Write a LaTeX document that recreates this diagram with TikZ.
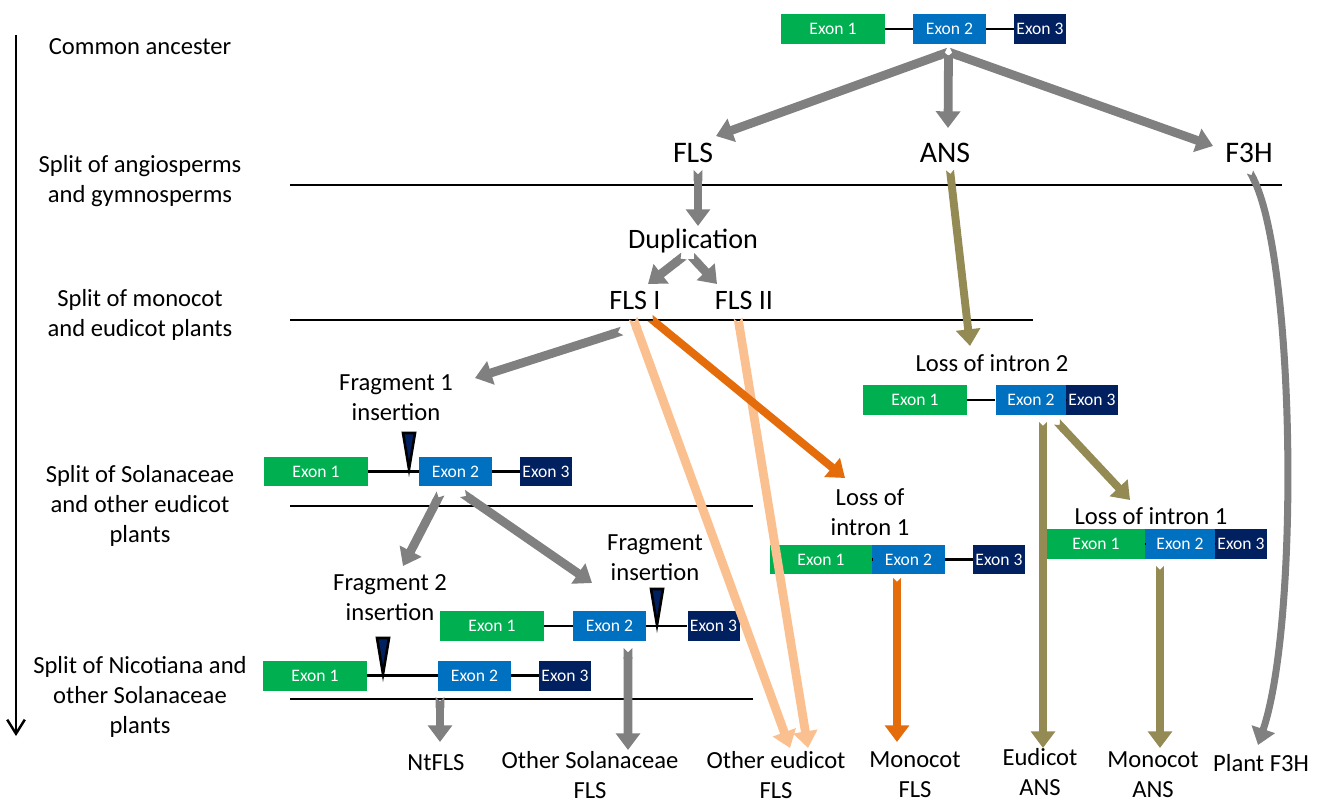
\documentclass[tikz,border=0pt]{standalone}
\usepackage{fontspec}
\setmainfont{Carlito}
\usetikzlibrary{arrows.meta}
\definecolor{exonone}{HTML}{00B050}
\definecolor{exontwo}{HTML}{0070C0}
\definecolor{exonthree}{HTML}{002060}
\definecolor{arrowgray}{HTML}{808080}
\definecolor{peach}{HTML}{FAC090}
\definecolor{rust}{HTML}{E46C0A}
\definecolor{olive}{HTML}{948A54}
\definecolor{darkline}{HTML}{000000}
\tikzset{
  exon/.style={rectangle, inner sep=0pt, minimum height=0.6cm, text=white, font=\fontsize{10}{12}\selectfont},
  exonA/.style={exon, fill=exonone, minimum width=2.08cm},
  exonB/.style={exon, fill=exontwo, minimum width=1.46cm},
  exonC/.style={exon, fill=exonthree, minimum width=1.04cm},
  intron/.style={line width=1.2pt, draw=darkline},
  era/.style={font=\fontsize{14}{17}\selectfont, align=center},
  gene/.style={font=\fontsize{17}{20}\selectfont},
  event/.style={font=\fontsize{14}{17}\selectfont, align=center},
  splitline/.style={line width=1.4pt, draw=darkline},
  insmark/.style={fill=exonthree, draw=darkline, line width=1.5pt, line join=miter},
  fat/.style={line width=5pt, {Triangle Cap[reversed]}-{Triangle[width=13.5pt,length=9.5pt]}},
  grayflow/.style={fat, draw=arrowgray},
  peachflow/.style={fat, draw=peach},
  rustflow/.style={fat, line width=4.5pt, draw=rust},
  oliveflow/.style={fat, line width=4.5pt, draw=olive},
  timeline/.style={line width=1.4pt, draw=darkline, -{Straight Barb[length=8pt,width=10pt]}}
}

\begin{document}
\begin{tikzpicture}[x=0.02cm, y=-0.02cm]
\useasboundingbox (0,0) rectangle (1324,803);

% Time axis and eras
\coordinate (ttop) at (16,35);
\coordinate (tbot) at (16,736);
\draw[timeline] (ttop) -- (tbot);
\node[era] (eraA) at (140,47)  {Common ancester};
\node[era] (eraB) at (140,181) {Split of angiosperms\\and gymnosperms};
\node[era] (eraC) at (140,315) {Split of monocot\\and eudicot plants};
\node[era] (eraD) at (140,506) {Split of Solanaceae\\and other eudicot\\plants};
\node[era] (eraE) at (140,697) {Split of Nicotiana and\\other Solanaceae\\plants};

% Era dividers
\draw[splitline] (290,185) -- (1282,185);
\draw[splitline] (290,320) -- (1033,320);
\draw[splitline] (290,506) -- (753,506);
\draw[splitline] (290,699) -- (753,699);

% --- Gene models ---
% common ancestor
\node[exonA] (anc1) at (833,29)    {Exon 1};
\node[exonB] (anc2) at (949.5,29)  {Exon 2};
\node[exonC] (anc3) at (1040,29)   {Exon 3};
% ANS, loss of intron 2
\node[exonA] (lia1) at (915,400)   {Exon 1};
\node[exonB, minimum width=1.42cm] (lia2) at (1031,400) {Exon 2};
\node[exonC] (lia3) at (1092,400)  {Exon 3};
% fragment 1 insertion
\node[exonA] (fa1) at (316,471.5)  {Exon 1};
\node[exonB] (fa2) at (455.5,471.5) {Exon 2};
\node[exonC] (fa3) at (546,471.5)  {Exon 3};
% fragment insertion
\node[exonA] (fm1) at (492,626)    {Exon 1};
\node[exonB] (fm2) at (609.5,626)  {Exon 2};
\node[exonC] (fm3) at (713.5,626)  {Exon 3};
% fragment 2 insertion
\node[exonA] (fb1) at (315,675.5)  {Exon 1};
\node[exonB] (fb2) at (474.5,675.5) {Exon 2};
\node[exonC] (fb3) at (565,675.5)  {Exon 3};
% FLS, loss of intron 1
\node[exonA, minimum width=2.04cm] (lm1) at (821,559.5) {Exon 1};
\node[exonB] (lm2) at (908.5,559.5) {Exon 2};
\node[exonC] (lm3) at (999,559.5)  {Exon 3};
% ANS, loss of intron 1
\node[exonA, minimum width=1.96cm] (lr1) at (1096,544) {Exon 1};
\node[exonB, minimum width=1.40cm] (lr2) at (1180,544) {Exon 2};
\node[exonC] (lr3) at (1241,544)   {Exon 3};

% introns
\foreach \g in {anc,lia,fa,fm,fb,lm,lr} {
  \draw[intron] (\g1.east) -- (\g2.west);
  \draw[intron] (\g2.east) -- (\g3.west);
}
% inserted fragments
\foreach \x/\y in {409/469, 657/625, 383/674} {
  \filldraw[insmark] (\x-6,\y-36) -- (\x+6,\y-36) -- (\x,\y) -- cycle;
}

% --- Genes and events ---
\node[gene] (fls)   at (693,153)  {FLS};
\node[gene] (ans)   at (945,153)  {ANS};
\node[gene] (fth)   at (1249,153) {F3H};
\node[gene, font=\fontsize{16}{19}\selectfont] (dup)   at (693,241) {Duplication};
\node[gene, font=\fontsize{16}{19}\selectfont] (flsI)  at (635,300) {FLS I};
\node[gene, font=\fontsize{16}{19}\selectfont] (flsII) at (744,300) {FLS II};
\node[event] (lossB) at (992,363)  {Loss of intron 2};
\node[event] (frag1) at (396,398)  {Fragment 1\\insertion};
\node[event] (frag2) at (390,598)  {Fragment 2\\insertion};
\node[event] (fragM) at (655,558)  {Fragment\\insertion};
\node[event] (lossM) at (870,512)  {Loss of\\intron 1};
\node[event] (lossR) at (1151,516) {Loss of intron 1};

% --- Descendants ---
\node[event] (ntfls)    at (436,763)  {NtFLS};
\node[event] (solfls)   at (590,775)  {Other Solanaceae\\FLS};
\node[event] (eudfls)   at (776,775)  {Other eudicot\\FLS};
\node[event] (monofls)  at (915,775)  {Monocot\\FLS};
\node[event] (eudans)   at (1040,772) {Eudicot\\ANS};
\node[event] (monoans)  at (1153,775) {Monocot\\ANS};
\node[event] (plantfth) at (1261,763) {Plant F3H};

% --- Flow ---
% ancestor splits into three genes
\draw[grayflow] ([shift={(-1,23)}]anc2.center) -- ([shift={(23,-17)}]fls.center);
\draw[grayflow] ([shift={(-1,23)}]anc2.center) -- ([shift={(3,-25)}]ans.center);
\draw[grayflow] ([shift={(-1,23)}]anc2.center) -- ([shift={(-36,-7)}]fth.center);
% FLS branch
\draw[grayflow] ([shift={(5,17)}]fls.center) -- ([shift={(5,-15)}]dup.center);
\draw[grayflow] ([shift={(-9,15)}]dup.center) -- ([shift={(13,-16)}]flsI.center);
\draw[grayflow] ([shift={(-2,15)}]dup.center) -- ([shift={(-27,-16)}]flsII.center);
\draw[grayflow] ([shift={(-13,31)}]flsI.center) -- ([shift={(79,-20)}]frag1.center);
\draw[grayflow] ([shift={(-15,22)}]fa2.center) -- ([shift={(13,-32)}]frag2.center);
\draw[grayflow] ([shift={(7,22)}]fa2.center) -- ([shift={(-63,25)}]fragM.center);
\draw[grayflow] ([shift={(-34.5,21.5)}]fb2.center) -- ([shift={(4,-21)}]ntfls.center);
\draw[grayflow] ([shift={(18.5,22)}]fm2.center) -- ([shift={(38,-25)}]solfls.center);
\draw[peachflow] ([shift={(-2,18)}]flsI.center) -- ([shift={(14,-27)}]eudfls.center);
\draw[peachflow] ([shift={(-6,18)}]flsII.center) -- ([shift={(32,-27)}]eudfls.center);
\draw[rustflow] ([shift={(15,18)}]flsI.center) -- ([shift={(-25,-34)}]lossM.center);
\draw[rustflow] ([shift={(-11.5,18.5)}]lm2.center) -- ([shift={(-18,-33)}]monofls.center);
% ANS branch
\draw[oliveflow] ([shift={(5,17)}]ans.center) -- ([shift={(-22,-17)}]lossB.center);
\draw[oliveflow] ([shift={(12,22)}]lia2.center) -- ([shift={(3,-24)}]eudans.center);
\draw[oliveflow] ([shift={(26,22)}]lia2.center) -- ([shift={(-21,-16)}]lossR.center);
\draw[oliveflow] ([shift={(-20,22)}]lr2.center) -- ([shift={(7,-27)}]monoans.center);
% F3H branch
\draw[grayflow, line width=4pt] ([shift={(1,19)}]fth.center)
  .. controls (1295,260) and (1300,620) .. ([shift={(-3,-18)}]plantfth.center);

\end{tikzpicture}
\end{document}
